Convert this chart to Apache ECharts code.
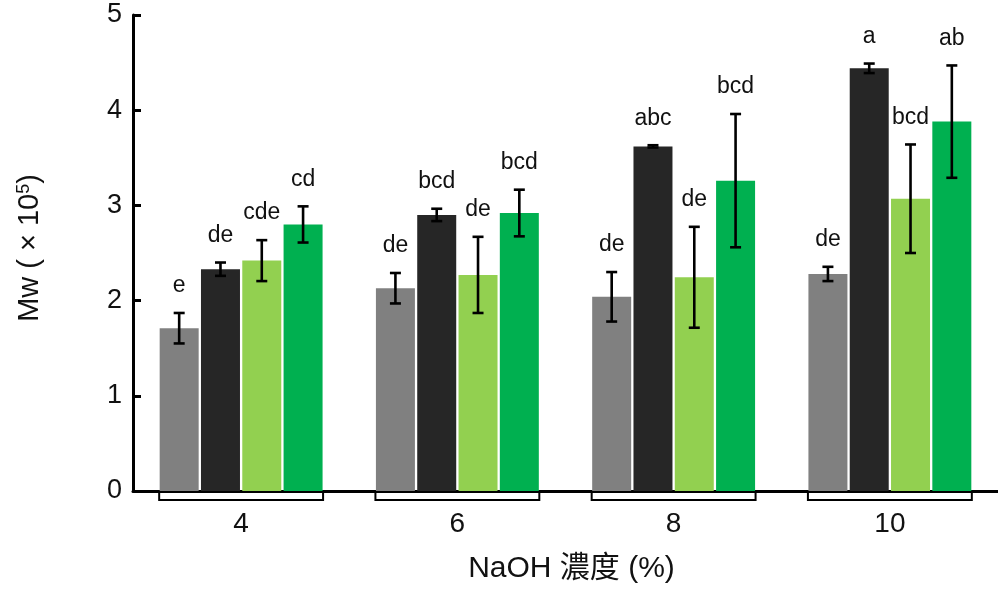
<!DOCTYPE html>
<html>
<head>
<meta charset="utf-8">
<script src="https://cdn.jsdelivr.net/npm/echarts@6/dist/echarts.min.js"></script>
<style>html,body{margin:0;padding:0;background:#fff}#c{width:998px;height:589px}</style>
</head>
<body>
<div id="c"></div>
<script>
const categories = ['4', '6', '8', '10'];
const yTicks = [0, 1, 2, 3, 4, 5];
const grayMean = [1.71, 2.13, 2.04, 2.28];
const grayErr = [0.16, 0.16, 0.26, 0.075];
const grayLetters = ['e', 'de', 'de', 'de'];
const blackMean = [2.33, 2.90, 3.62, 4.44];
const blackErr = [0.07, 0.065, 0.012, 0.05];
const blackLetters = ['de', 'bcd', 'abc', 'a'];
const lightMean = [2.42, 2.27, 2.245, 3.07];
const lightErr = [0.215, 0.40, 0.53, 0.57];
const lightLetters = ['cde', 'de', 'de', 'bcd'];
const greenMean = [2.80, 2.92, 3.26, 3.88];
const greenErr = [0.19, 0.245, 0.70, 0.59];
const greenLetters = ['cd', 'bcd', 'bcd', 'ab'];

const groups = [
  {name: 'gray', color: '#808080', mean: grayMean, err: grayErr, letters: grayLetters},
  {name: 'black', color: '#262626', mean: blackMean, err: blackErr, letters: blackLetters},
  {name: 'light', color: '#92d050', mean: lightMean, err: lightErr, letters: lightLetters},
  {name: 'green', color: '#00b050', mean: greenMean, err: greenErr, letters: greenLetters}
];

const BAR_W = 39;
const GAP = 2.3;
const PITCH = BAR_W + GAP;
const FONT = "'Liberation Sans', Arial, 'Noto Sans CJK TC', sans-serif";

const chart = echarts.init(document.getElementById('c'), null, {renderer: 'canvas'});

const series = [];
groups.forEach(function (g) {
  series.push({
    type: 'bar', name: g.name, data: g.mean,
    barWidth: BAR_W, barGap: (GAP / BAR_W * 100) + '%',
    itemStyle: {color: g.color}, silent: true, z: 2
  });
});
groups.forEach(function (g, gi) {
  series.push({
    type: 'custom', name: g.name + '-err',
    data: g.mean.map(function (m, i) { return [i, m, g.err[i]]; }),
    z: 5, silent: true,
    renderItem: function (params, api) {
      const ci = api.value(0), m = api.value(1), e = api.value(2);
      const top = api.coord([ci, m + e]);
      const bot = api.coord([ci, m - e]);
      const x = top[0] + (gi - 1.5) * PITCH;
      const cap = 5.5;
      const st = {stroke: '#000', lineWidth: 2.6, fill: null};
      return {
        type: 'group',
        children: [
          {type: 'line', shape: {x1: x, y1: top[1], x2: x, y2: bot[1]}, style: st},
          {type: 'line', shape: {x1: x - cap, y1: top[1], x2: x + cap, y2: top[1]}, style: st},
          {type: 'line', shape: {x1: x - cap, y1: bot[1], x2: x + cap, y2: bot[1]}, style: st},
          {type: 'text', x: x, y: top[1] - 27,
            style: {text: g.letters[ci], fill: '#111', font: '23px ' + FONT, align: 'center', verticalAlign: 'middle'}}
        ]
      };
    }
  });
});
// group brackets under x axis
series.push({
  type: 'custom', name: 'brackets',
  data: categories.map(function (c, i) { return [i, 0]; }),
  silent: true, z: 6,
  renderItem: function (params, api) {
    const p = api.coord([api.value(0), 0]);
    const half = 2 * PITCH - GAP / 2 + 0.5;
    const y0 = p[1] + 1, y1 = p[1] + 9;
    return {
      type: 'polyline',
      shape: {points: [[p[0] - half, y0], [p[0] - half, y1], [p[0] + half, y1], [p[0] + half, y0]]},
      style: {stroke: '#000', lineWidth: 2, fill: null}
    };
  }
});

chart.setOption({
  animation: false,
  backgroundColor: '#fff',
  grid: {left: 133, top: 15, width: 868, height: 479, containLabel: false},
  xAxis: {
    type: 'category', data: categories,
    axisLine: {lineStyle: {color: '#000', width: 3}},
    axisTick: {show: false},
    axisLabel: {color: '#111', fontSize: 28, fontFamily: FONT, margin: 19},
    name: 'NaOH 濃度 (%)', nameLocation: 'middle', nameGap: 63,
    nameTextStyle: {color: '#111', fontSize: 30, fontFamily: FONT, padding: [0, 0, 0, 12]}
  },
  yAxis: {
    type: 'value', min: 0, max: 5, interval: 1,
    axisLine: {show: true, lineStyle: {color: '#000', width: 3}},
    axisTick: {show: true, inside: true, length: 8, lineStyle: {color: '#000', width: 3}},
    splitLine: {show: false},
    axisLabel: {color: '#111', fontSize: 27, fontFamily: FONT, margin: 11,
      formatter: function (v) { return yTicks.indexOf(v) >= 0 ? String(v) : ''; }},
    name: '{t|Mw (}{x|×}{t|10}{s|5}{t|)}', nameLocation: 'middle', nameGap: 88, nameRotate: 90,
    nameTextStyle: {
      padding: [0, 0, 0, 10],
      rich: {
        t: {fontSize: 29, fontFamily: FONT, color: '#111'},
        x: {fontSize: 29, fontFamily: FONT, color: '#111', padding: [0, 8, 0, 8]},
        s: {fontSize: 18, fontFamily: FONT, color: '#111', verticalAlign: 'top', padding: [0, 0, 12, 0]}
      }
    }
  },
  series: series
});
</script>
</body>
</html>
